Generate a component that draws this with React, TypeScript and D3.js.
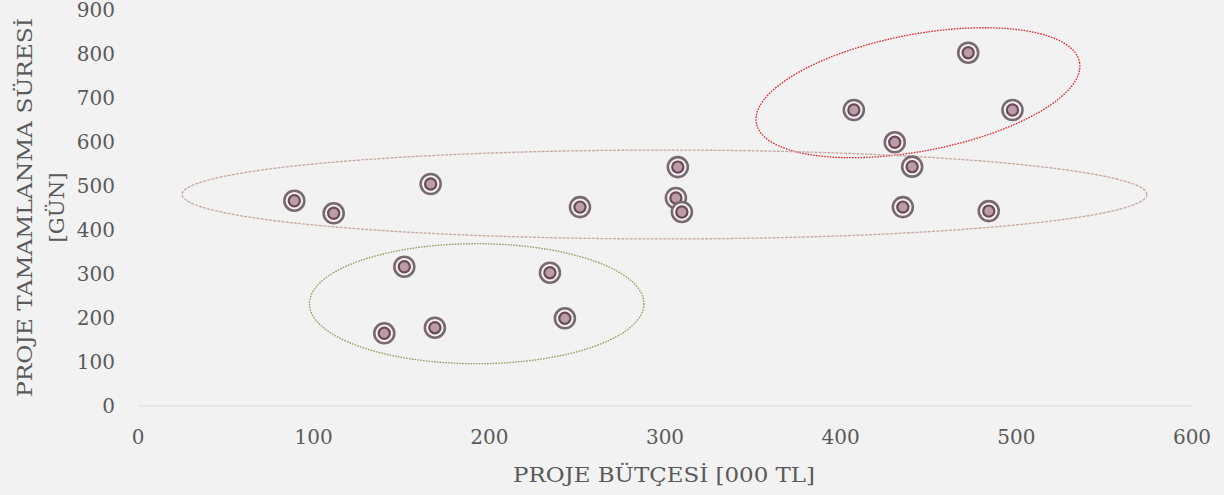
import React from "react";
import * as d3 from "d3";

const budgets = [89, 111.4, 166.6, 251.6, 307.3, 306.2, 309.6, 151.6, 140.2, 169, 234.5, 243, 407.5, 472.6, 430.8, 497.8, 440.7, 435.4, 484.3];
const durations = [466.6, 438, 504.5, 452, 543, 472.7, 441, 316.6, 165.2, 178, 303, 199.3, 672.7, 803, 599.3, 672.7, 544, 452, 443];
const xTicks = [0, 100, 200, 300, 400, 500, 600];
const yTicks = [0, 100, 200, 300, 400, 500, 600, 700, 800, 900];
const xTitle = "PROJE BÜTÇESİ [000 TL]";
const yTitleLines = ["PROJE TAMAMLANMA SÜRESİ", "[GÜN]"];

// cluster ellipses: center (data), radii (data units), rotation (deg)
const ellipseCx = [444, 299.7, 192.8];
const ellipseCy = [712, 480.7, 232.5];
const ellipseRx = [93.6, 274.6, 95.2];
const ellipseRy = [132.7, 101, 136.4];
const ellipseRot = [-10.7, 0, 0];
const ellipseColor = ["#e0242e", "#c6a89e", "#8c9e5c"];
const ellipseDash = ["1.6 1.2", "3 1.2", "1.6 1.2"];

const W = 1224;
const H = 495;
const font = "'DejaVu Serif', serif";
const textColor = "#595959";

export default function App() {
  const x = d3.scaleLinear().domain([0, 600]).range([138, 1192]);
  const y = d3.scaleLinear().domain([0, 900]).range([406, 10]);
  const pts = budgets.map((b, i) => ({ b, d: durations[i] }));

  return (
    <svg
      width={W}
      height={H}
      style={{ position: "absolute", left: 0, top: 0, background: "#f2f2f2" }}
    >
      <rect x={0} y={0} width={W} height={H} fill="#f2f2f2" />
      <line x1={x(0)} x2={x(600)} y1={y(0)} y2={y(0)} stroke="#d9d9d9" strokeWidth={1.2} />
      {xTicks.map((t) => (
        <text
          key={"x" + t}
          x={x(t)}
          y={438}
          textAnchor="middle"
          dominantBaseline="middle"
          fontFamily={font}
          fontSize={20}
          fill={textColor}
        >
          {t}
        </text>
      ))}
      {yTicks.map((t) => (
        <text
          key={"y" + t}
          x={115}
          y={y(t) + 1.5}
          textAnchor="end"
          dominantBaseline="middle"
          fontFamily={font}
          fontSize={20}
          fill={textColor}
        >
          {t}
        </text>
      ))}
      <text
        x={664}
        y={482}
        textAnchor="middle"
        fontFamily={font}
        fontSize={21}
        fill={textColor}
        textLength={302}
        lengthAdjust="spacingAndGlyphs"
      >
        {xTitle}
      </text>
      <g transform="translate(0,207.5) rotate(-90)">
        <text
          x={0}
          y={32}
          textAnchor="middle"
          fontFamily={font}
          fontSize={21}
          fill={textColor}
          textLength={379}
          lengthAdjust="spacingAndGlyphs"
        >
          {yTitleLines[0]}
        </text>
        <text
          x={0}
          y={64}
          textAnchor="middle"
          fontFamily={font}
          fontSize={21}
          fill={textColor}
          textLength={70}
          lengthAdjust="spacingAndGlyphs"
        >
          {yTitleLines[1]}
        </text>
      </g>
      {ellipseCx.map((cx, i) => {
        const px = x(cx);
        const py = y(ellipseCy[i]);
        const rx = x(ellipseRx[i]) - x(0);
        const ry = y(0) - y(ellipseRy[i]);
        return (
          <ellipse
            key={"e" + i}
            cx={px}
            cy={py}
            rx={rx}
            ry={ry}
            transform={`rotate(${ellipseRot[i]} ${px} ${py})`}
            fill="none"
            stroke={ellipseColor[i]}
            strokeWidth={1.3}
            strokeDasharray={ellipseDash[i]}
          />
        );
      })}
      {pts.map((p, i) => (
        <g key={"p" + i} transform={`translate(${x(p.b)},${y(p.d)})`}>
          <circle r={10} fill="#f7f3f4" stroke="#786a6f" strokeWidth={2.6} />
          <circle r={5.6} fill="#bb9ca7" stroke="#6a4a58" strokeWidth={2.2} />
        </g>
      ))}
    </svg>
  );
}
